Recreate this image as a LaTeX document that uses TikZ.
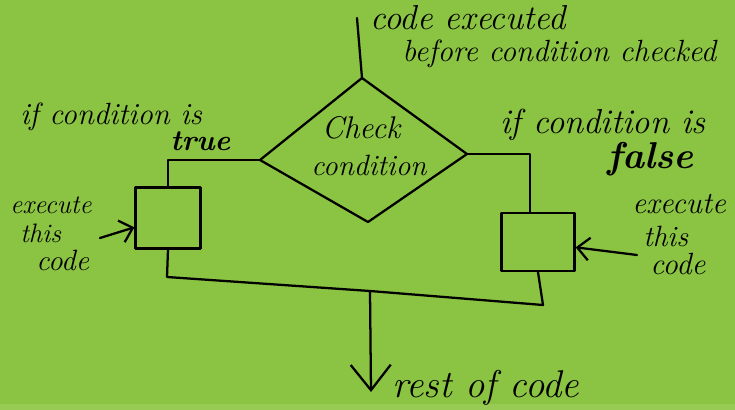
\documentclass[tikz,border=0pt]{standalone}
\usetikzlibrary{arrows.meta}
\definecolor{board}{RGB}{139,195,66}
\definecolor{boardedge}{RGB}{152,203,84}
\begin{document}
\begin{tikzpicture}[x=0.75pt,y=-0.75pt,
  ink/.style={line width=1.7pt, line cap=round, line join=round, draw=black},
  hand/.style={font=\fontsize{#1}{#1}\selectfont\itshape, inner sep=0pt, anchor=base west},
  hand/.default=23,
  handbold/.style={hand, font=\fontsize{#1}{#1}\selectfont\bfseries\itshape},
  handbold/.default=23,
  codebox/.style={ink, inner sep=0pt},
]
% board
\fill[board] (0,0) rectangle (735,410);
\fill[boardedge] (0,404) rectangle (735,410);
\useasboundingbox (0,0) rectangle (735,410);

% decision diamond
\coordinate (dtop) at (362,78);
\coordinate (dleft) at (260,160);
\coordinate (dright) at (467,154);
\coordinate (dbot) at (368,222);
\draw[ink] (dtop) -- (dright) -- (dbot) -- (dleft) -- cycle;
\node[hand=23.5, anchor=base] (chk) at (361,138) {Check};
\node[hand=22, anchor=base] (cnd) at (369,175) {condition};

% code blocks for the two branches
\node[codebox, minimum width=48.75pt, minimum height=45.75pt] (lbox) at (168,218) {};
\node[codebox, minimum width=54.75pt, minimum height=43.5pt] (rbox) at (538,242) {};

% flow in
\coordinate (start) at (357,18);
\draw[ink] (start) -- (dtop);

% branches
\draw[ink] (dleft) -| (lbox.north);
\draw[ink] (dright) -| ([xshift=-6pt]rbox.north);

% branches join again
\coordinate (lcorner) at (167,277);
\coordinate (merge) at (370,291);
\coordinate (rcorner) at (543,305);
\draw[ink] (lbox.south) -- (lcorner) -- (merge) -- (rcorner) -- (rbox.south);

% flow out
\coordinate (finish) at (371,392);
\draw[ink, -{Straight Barb[length=19pt,width=30pt]}] (merge) -- (finish);

% pointers to the code blocks
\coordinate (lnote) at (100,238);
\coordinate (rnote) at (637,255);
\draw[ink, -{Straight Barb[length=9pt,width=17pt]}] (lnote) -- ([yshift=-7pt]lbox.west);
\draw[ink, -{Straight Barb[length=9pt,width=17pt]}] (rnote) -- ([yshift=-4pt]rbox.east);

% labels
\node[hand=26] (pre1) at (370,30) {code executed};
\node[hand=23] (pre2) at (402,62) {before condition checked};

\node[hand=23] (ift) at (20,124) {if condition is};
\node[handbold=22] (tru) at (170,150) {true};
\node[hand=26] (iff) at (500,133) {if condition is};
\node[handbold=28] (fls) at (607,168) {false};

\node[hand=20] (lex1) at (10,213) {execute};
\node[hand=20] (lex2) at (20,242) {this};
\node[hand=22] (lex3) at (36,270) {code};

\node[hand=23] (rex1) at (632,213) {execute};
\node[hand=22] (rex2) at (643,246) {this};
\node[hand=23] (rex3) at (650,274) {code};

\node[hand=29] (rest) at (392,397) {rest of code};
\end{tikzpicture}
\end{document}
